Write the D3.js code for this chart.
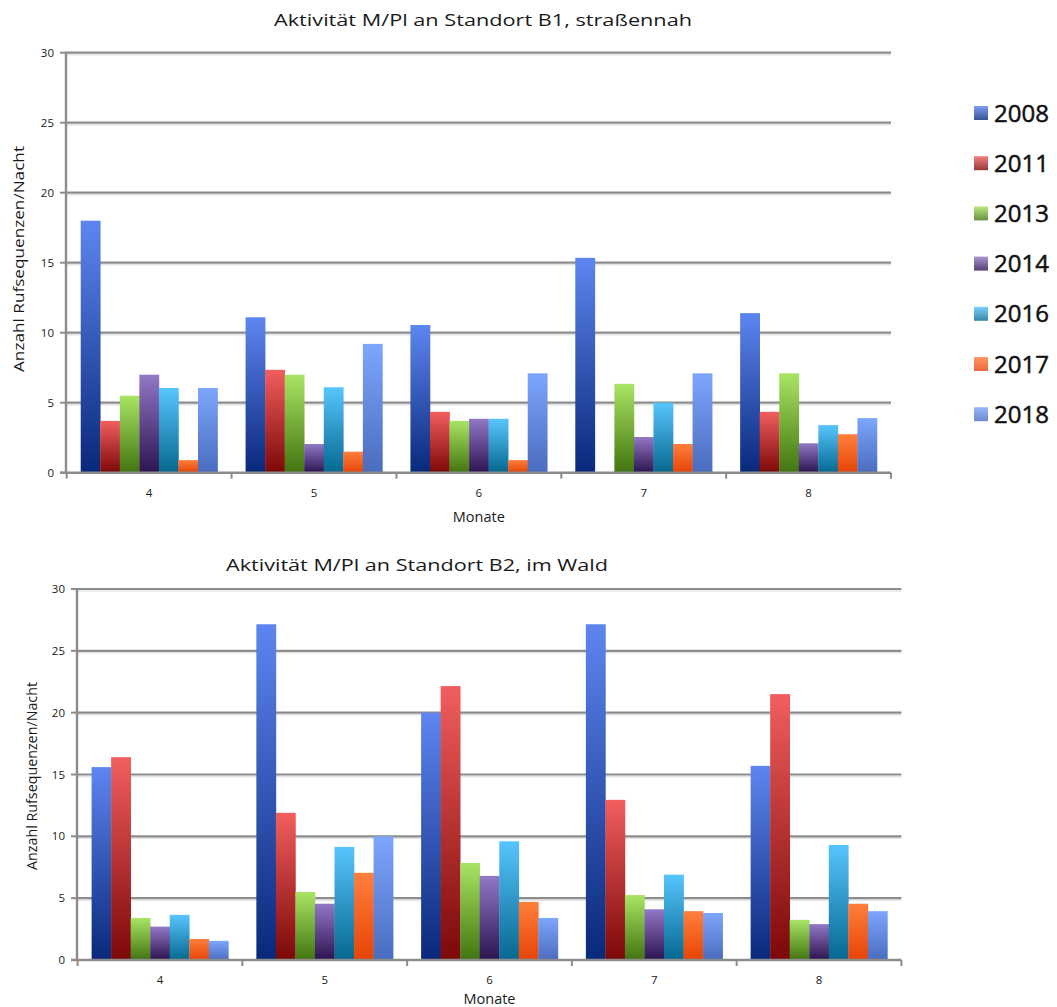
<!DOCTYPE html>
<html>
<head>
<meta charset="utf-8">
<script src="https://cdn.jsdelivr.net/npm/d3@7"></script>
<style>
  html, body { margin: 0; padding: 0; background: #fff; }
  svg { display: block; }
  text { font-family: "Open Sans", "Noto Sans", sans-serif; fill: #1a1a1a; }
</style>
</head>
<body>
<svg id="chart" width="1057" height="1007"></svg>
<script>
// Months on the x axis
const months = ["4", "5", "6", "7", "8"];
// Survey years (one bar per year in each month group)
const years = ["2008", "2011", "2013", "2014", "2016", "2017", "2018"];
// Y axis ticks
const yTicks = [0, 5, 10, 15, 20, 25, 30];

// Site B1 (near the road): call sequences per night, rows = years, columns = months
const b1_2008 = [18.0, 11.1, 10.55, 15.35, 11.4];
const b1_2011 = [3.7, 7.35, 4.35, 0, 4.35];
const b1_2013 = [5.5, 7.0, 3.7, 6.35, 7.1];
const b1_2014 = [7.0, 2.05, 3.85, 2.55, 2.1];
const b1_2016 = [6.05, 6.1, 3.85, 5.0, 3.4];
const b1_2017 = [0.9, 1.5, 0.9, 2.05, 2.75];
const b1_2018 = [6.05, 9.2, 7.1, 7.1, 3.9];

// Site B2 (forest)
const b2_2008 = [15.6, 27.15, 20.0, 27.15, 15.7];
const b2_2011 = [16.4, 11.9, 22.15, 12.95, 21.5];
const b2_2013 = [3.4, 5.5, 7.85, 5.25, 3.25];
const b2_2014 = [2.7, 4.55, 6.8, 4.1, 2.9];
const b2_2016 = [3.65, 9.15, 9.6, 6.9, 9.3];
const b2_2017 = [1.7, 7.05, 4.7, 3.95, 4.55];
const b2_2018 = [1.55, 10.0, 3.4, 3.8, 3.95];

// Light (top) and dark (bottom) stops of each year's bar gradient
const topColors = ["#5e86f0", "#f25e5e", "#a9e564", "#9278c6", "#57c5fd", "#ff7f3c", "#7da6fd"];
const bottomColors = ["#08287a", "#7c0808", "#427410", "#2c1450", "#056890", "#e64406", "#4a6cbe"];

const svg = d3.select("#chart");
const defs = svg.append("defs");
years.forEach((y, i) => {
  const g = defs.append("linearGradient")
    .attr("id", "grad" + i)
    .attr("x1", 0).attr("y1", 0).attr("x2", 0).attr("y2", 1);
  g.append("stop").attr("offset", "0%").attr("stop-color", topColors[i]);
  g.append("stop").attr("offset", "100%").attr("stop-color", bottomColors[i]);
});

function drawPanel(cfg) {
  const series = cfg.series;
  const x0 = d3.scaleBand().domain(months).range([cfg.left, cfg.right]).paddingInner(0).paddingOuter(0);
  const inner = x0.bandwidth() * 0.83;
  const x1 = d3.scaleBand().domain(years).range([0, inner]).padding(0);
  const y = d3.scaleLinear().domain([0, 30]).range([cfg.bottom, cfg.top]);
  const g = svg.append("g");

  // horizontal gridlines (with a faint shadow line beneath)
  g.selectAll("line.shadow").data(yTicks.slice(1)).join("line")
    .attr("x1", cfg.axisX).attr("x2", cfg.right)
    .attr("y1", d => y(d) + 2).attr("y2", d => y(d) + 2)
    .attr("stroke", "#e4e4e4").attr("stroke-width", 1.5);
  g.selectAll("line.grid").data(yTicks.slice(1)).join("line")
    .attr("x1", cfg.axisX).attr("x2", cfg.right)
    .attr("y1", d => y(d)).attr("y2", d => y(d))
    .attr("stroke", "#8c8c8c").attr("stroke-width", 2.2);

  // y tick marks and labels
  g.selectAll("line.ytick").data(yTicks).join("line")
    .attr("x1", cfg.axisX - 6).attr("x2", cfg.axisX)
    .attr("y1", d => y(d)).attr("y2", d => y(d))
    .attr("stroke", "#8c8c8c").attr("stroke-width", 2);
  g.selectAll("text.ytick").data(yTicks).join("text")
    .attr("x", cfg.axisX - 12).attr("y", d => y(d) + 4)
    .attr("text-anchor", "end").attr("font-size", 11.5)
    .text(d => d);

  // bars
  years.forEach((yr, i) => {
    g.selectAll("rect.s" + i).data(series[i]).join("rect")
      .attr("x", (d, j) => x0(months[j]) + (x0.bandwidth() - inner) / 2 + x1(yr))
      .attr("y", d => y(d))
      .attr("width", x1.bandwidth() + 0.3)
      .attr("height", d => y(0) - y(d))
      .attr("fill", "url(#grad" + i + ")");
  });

  // axes
  g.append("line")
    .attr("x1", cfg.axisX).attr("x2", cfg.axisX)
    .attr("y1", y(30) - 1).attr("y2", y(0) + 1)
    .attr("stroke", "#8c8c8c").attr("stroke-width", 2.4);
  g.append("line")
    .attr("x1", cfg.axisX - 6).attr("x2", cfg.right)
    .attr("y1", y(0)).attr("y2", y(0))
    .attr("stroke", "#8c8c8c").attr("stroke-width", 2.6);

  // x boundary ticks and month labels
  const bounds = months.map(m => x0(m)).concat([cfg.right]);
  g.selectAll("line.xtick").data(bounds).join("line")
    .attr("x1", d => d).attr("x2", d => d)
    .attr("y1", y(0)).attr("y2", y(0) + 6)
    .attr("stroke", "#8c8c8c").attr("stroke-width", 2);
  g.selectAll("text.xtick").data(months).join("text")
    .attr("x", d => x0(d) + x0.bandwidth() / 2)
    .attr("y", y(0) + 24)
    .attr("text-anchor", "middle").attr("font-size", 11.5)
    .text(d => d);

  // titles
  g.append("text")
    .attr("x", cfg.titleX).attr("y", cfg.titleY)
    .attr("text-anchor", "middle").attr("font-size", 17)
    .attr("font-family", "'DejaVu Sans', sans-serif")
    .attr("textLength", cfg.titleLen).attr("lengthAdjust", "spacingAndGlyphs")
    .text(cfg.title);
  g.append("text")
    .attr("x", x0(months[2]) + x0.bandwidth() / 2).attr("y", cfg.xLabelY)
    .attr("text-anchor", "middle").attr("font-size", 14.5)
    .text("Monate");
  g.append("text")
    .attr("transform", `translate(${cfg.yLabelX},${cfg.yLabelY}) rotate(-90)`)
    .attr("text-anchor", "middle").attr("font-size", 14)
    .attr("textLength", cfg.yLabelLen).attr("lengthAdjust", "spacingAndGlyphs")
    .text("Anzahl Rufsequenzen/Nacht");
}

drawPanel({
  series: [b1_2008, b1_2011, b1_2013, b1_2014, b1_2016, b1_2017, b1_2018],
  left: 66.7, right: 891, axisX: 66, top: 52.7, bottom: 472.7,
  title: "Aktivität M/Pl an Standort B1, straßennah", titleX: 483, titleY: 26, titleLen: 418,
  xLabelY: 522, yLabelX: 24, yLabelY: 259, yLabelLen: 226
});

drawPanel({
  series: [b2_2008, b2_2011, b2_2013, b2_2014, b2_2016, b2_2017, b2_2018],
  left: 77.6, right: 901.4, axisX: 77, top: 589, bottom: 960,
  title: "Aktivität M/Pl an Standort B2, im Wald", titleX: 417, titleY: 571, titleLen: 382,
  xLabelY: 1004, yLabelX: 37, yLabelY: 776, yLabelLen: 188
});

// legend
const legend = svg.append("g");
years.forEach((yr, i) => {
  const cy = 113 + i * 50.2;
  legend.append("rect")
    .attr("x", 974).attr("y", cy - 7).attr("width", 14).attr("height", 14)
    .attr("fill", "url(#grad" + i + ")").attr("opacity", 0.8);
  legend.append("text")
    .attr("x", 994).attr("y", cy + 8.5)
    .attr("font-family", "Lato, 'Open Sans', sans-serif")
    .attr("font-size", 24).attr("font-weight", 500)
    .style("fill", "#111").style("stroke", "#111").style("stroke-width", 0.5)
    .text(yr);
});
</script>
</body>
</html>
